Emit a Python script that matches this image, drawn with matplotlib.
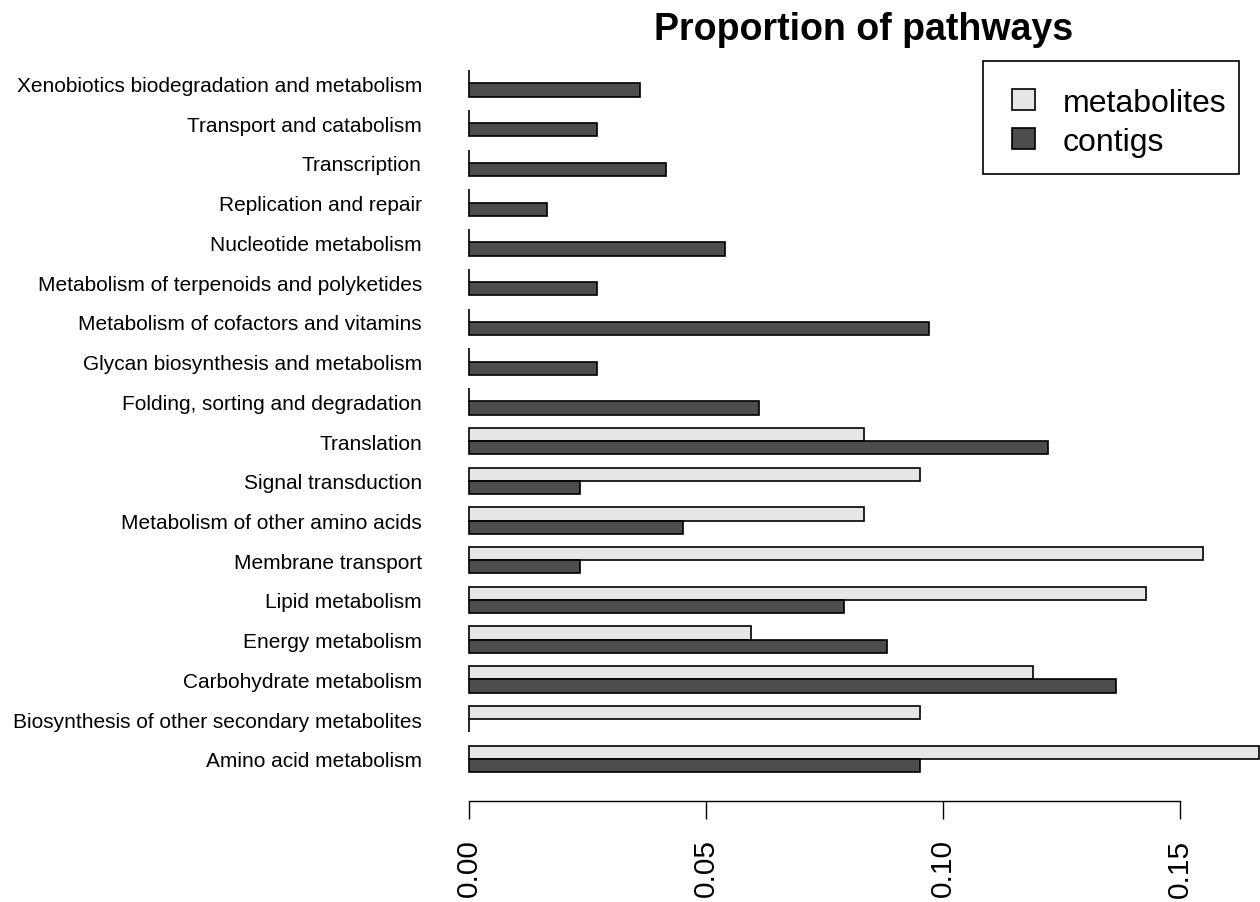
import numpy as np
import matplotlib.pyplot as plt
from matplotlib.patches import Patch, Rectangle

plt.rcParams['font.family'] = ['Liberation Sans', 'DejaVu Sans']

# categories from bottom to top
pathways = ["Amino acid metabolism",
            "Biosynthesis of other secondary metabolites",
            "Carbohydrate metabolism",
            "Energy metabolism",
            "Lipid metabolism",
            "Membrane transport",
            "Metabolism of other amino acids",
            "Signal transduction",
            "Translation",
            "Folding, sorting and degradation",
            "Glycan biosynthesis and metabolism",
            "Metabolism of cofactors and vitamins",
            "Metabolism of terpenoids and polyketides",
            "Nucleotide metabolism",
            "Replication and repair",
            "Transcription",
            "Transport and catabolism",
            "Xenobiotics biodegradation and metabolism"]

metabolites = [0.1667, 0.0952, 0.1190, 0.0595, 0.1429, 0.1548, 0.0833, 0.0952, 0.0833,
               0, 0, 0, 0, 0, 0, 0, 0, 0]
contigs = [0.0951, 0, 0.1365, 0.0882, 0.0791, 0.0234, 0.0451, 0.0234, 0.1222,
           0.0612, 0.0270, 0.0970, 0.0270, 0.0540, 0.0165, 0.0416, 0.0270, 0.0361]

ticks = [0.00, 0.05, 0.10, 0.15]
tick_labels = ["0.00", "0.05", "0.10", "0.15"]

col_met = "#e6e6e6"
col_con = "#4d4d4d"

W, H = 1260, 903
fig = plt.figure(figsize=(12.6, 9.03), dpi=100)
ax = fig.add_axes([469/W, (H-802)/H, 790/W, (802-40)/H])

n = len(pathways)
centers = 3*np.arange(n) + 2  # like R barplot, space=c(0,1)
ax.barh(centers + 0.5, metabolites, height=1, color=col_met, edgecolor="black",
        linewidth=1.2, clip_on=False)
ax.barh(centers - 0.5, contigs, height=1, color=col_con, edgecolor="black",
        linewidth=1.2, clip_on=False)

ax.set_xlim(0, 0.16667)
ax.set_ylim(-1.17, 56.34)

for s in ["top", "right", "left"]:
    ax.spines[s].set_visible(False)
ax.spines["bottom"].set_bounds(0, 0.15)
ax.spines["bottom"].set_linewidth(1.0)

ax.set_xticks(ticks)
ax.set_xticklabels(tick_labels, rotation=90, fontsize=21.5, va="top")
ax.tick_params(axis="x", length=13, width=1.0, pad=14)

ax.set_yticks(centers)
ax.set_yticklabels(pathways, fontsize=15)
ax.tick_params(axis="y", length=0, pad=34)

fig.text((469+1259)/2/W, (H-40)/H, "Proportion of pathways",
         fontsize=27, fontweight="bold", ha="center", va="baseline")

# legend: box drawn separately so the padding matches R's legend()
fig.add_artist(Rectangle((983/W, (H-175)/H), 256/W, 113/H, transform=fig.transFigure,
                         facecolor="white", edgecolor="black", linewidth=1.2))
handles = [Patch(facecolor=col_met, edgecolor="black", linewidth=1.2),
           Patch(facecolor=col_con, edgecolor="black", linewidth=1.2)]
leg = fig.legend(handles, ["metabolites", "contigs"], loc="upper left",
                 bbox_to_anchor=(1012/W, (H-89)/H), borderaxespad=0, borderpad=0,
                 fontsize=23, frameon=False, handlelength=0.72, handleheight=0.62,
                 handletextpad=0.87, labelspacing=0.27)

fig.savefig("out.png", dpi=100)
